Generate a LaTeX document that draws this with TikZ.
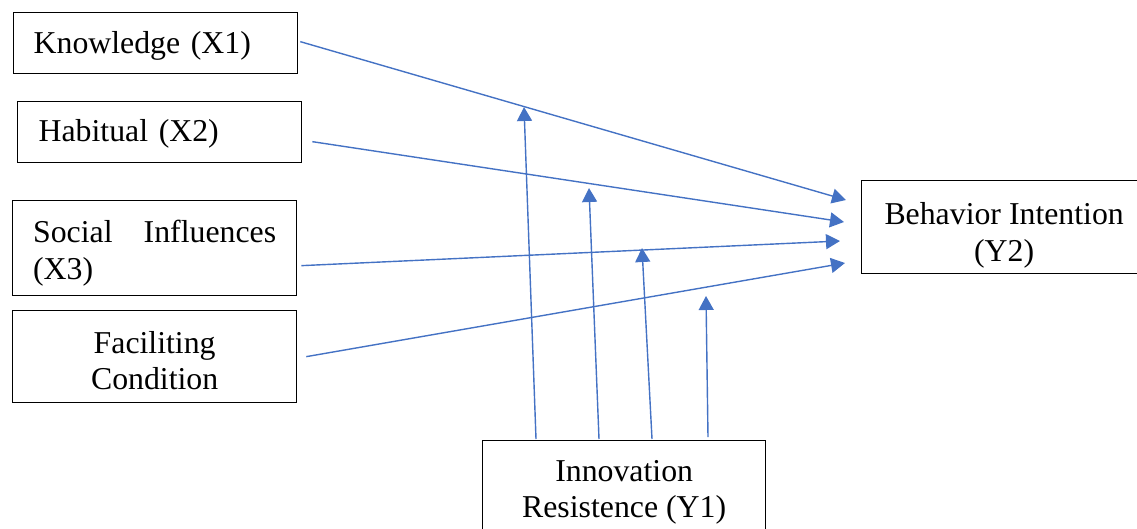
\documentclass[tikz,border=0pt]{standalone}
\usepackage{fontspec}
\setmainfont{Liberation Serif}
\usetikzlibrary{arrows.meta}
\definecolor{conn}{HTML}{4472C4}
\newcommand{\lowerby}[2]{\raisebox{-#1}[\height][\depth]{#2}}
\newcommand{\twoline}[3]{\lowerby{#1}{\begin{tabular}{@{}c@{}}#2\\#3\end{tabular}}}
\begin{document}
\begin{tikzpicture}[x=1pt,y=-1pt,
  box/.style={draw=black,line width=1.3pt,inner sep=0pt,anchor=north west,
    font=\fontsize{31.8}{36.5}\selectfont},
  link/.style={draw=conn,line width=1.4pt,-{Triangle[length=14pt,width=15pt]}}]
\useasboundingbox (0,0) rectangle (1137,528);
\node[box,minimum width=284pt,minimum height=61pt,text width=244pt,align=left] (x1) at (13,12) {\lowerby{3pt}{Knowledge (X1)}};
\node[box,minimum width=284pt,minimum height=61pt,text width=242pt,align=left] (x2) at (17,101) {\lowerby{2pt}{Habitual (X2)}};
\node[box,minimum width=284pt,minimum height=95pt] (x3) at (12,200) {\lowerby{5pt}{\parbox{243pt}{Social\hfill Influences\\(X3)}}};
\node[box,minimum width=284pt,minimum height=92pt] (x4) at (12,310) {\twoline{7.5pt}{Faciliting}{Condition}};
\node[box,minimum width=285pt,minimum height=93pt] (y2) at (861,180) {\twoline{8.5pt}{Behavior Intention}{(Y2)}};
\node[box,minimum width=283pt,minimum height=100pt] (y1) at (482,440) {\twoline{1.5pt}{Innovation}{Resistence (Y1)}};
% tips on Y2
\coordinate (t1) at (846,200);
\coordinate (t2) at (844,222);
\coordinate (t3) at (840,241);
\coordinate (t4) at (845,263);
% tips of moderating arrows
\coordinate (m1) at (524,107);
\coordinate (m2) at (589,188);
\coordinate (m3) at (642,248);
\coordinate (m4) at (706,296);
% starts on Y1
\coordinate (s1) at (536,439);
\coordinate (s2) at (599,439);
\coordinate (s3) at (652,439);
\coordinate (s4) at (708,437);
\draw[link] ([shift={(2,-1.5)}]x1.east) -- (t1);
\draw[link] ([shift={(10,9.5)}]x2.east) -- (t2);
\draw[link] ([shift={(4,17.5)}]x3.east) -- (t3);
\draw[link] ([shift={(9,0)}]x4.east) -- (t4);
\draw[link] (s1) -- (m1);
\draw[link] (s2) -- (m2);
\draw[link] (s3) -- (m3);
\draw[link] (s4) -- (m4);
\end{tikzpicture}
\end{document}
